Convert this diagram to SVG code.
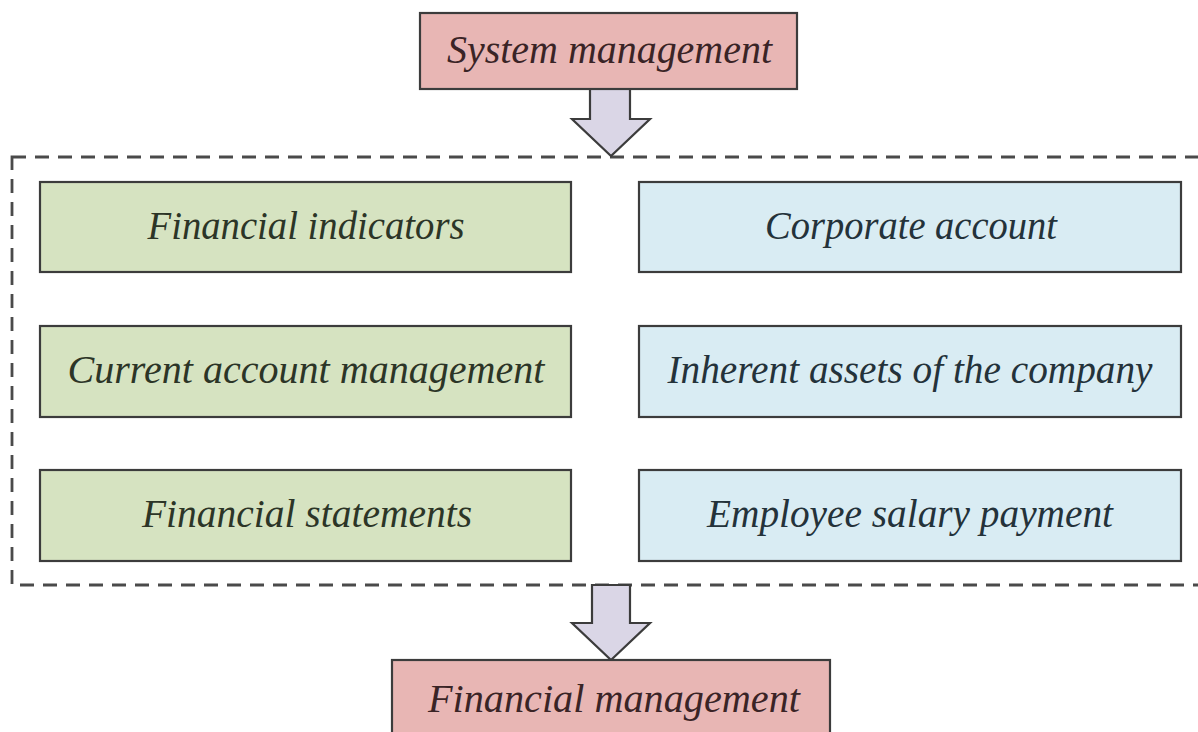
<svg xmlns="http://www.w3.org/2000/svg" width="1198" height="732" viewBox="0 0 1198 732">
<style>
.box{stroke:#3c3c3c;stroke-width:2.2}
.pink{fill:#e8b6b4}
.green{fill:#d6e3c1}
.blue{fill:#d9ecf3}
.arrow{fill:#dad6e6;stroke:#3c3c3c;stroke-width:2.2;stroke-linejoin:miter}
.dash{fill:none;stroke:#4a4a4a;stroke-width:2.8;stroke-dasharray:14 9}
text{font-family:"Liberation Serif","DejaVu Serif",serif;font-style:italic;font-size:39px;text-anchor:middle}
.tp{fill:#3a2426}
.tg{fill:#2c3527}
.tb{fill:#24323a}
</style>
<rect width="1198" height="732" fill="#ffffff"/>
<g id="group-frame">
<rect class="dash" x="12" y="157" width="1200" height="428"/>
</g>
<g id="connectors">
<path class="arrow" d="M590,89 L630,89 L630,119 L650,119 L611,156 L572,119 L590,119 Z"/>
<path class="arrow" d="M592,585 L630,585 L630,623 L650,623 L611,660 L572,623 L592,623 Z"/>
</g>
<g id="system-management">
<rect class="box pink" x="420" y="13" width="377" height="76"/>
<text class="tp" x="609.5" y="63" textLength="325" lengthAdjust="spacingAndGlyphs">System management</text>
</g>
<g id="financial-indicators">
<rect class="box green" x="40" y="182" width="531" height="90"/>
<text class="tg" x="306" y="239" textLength="317" lengthAdjust="spacingAndGlyphs">Financial indicators</text>
</g>
<g id="corporate-account">
<rect class="box blue" x="639" y="182" width="542" height="90"/>
<text class="tb" x="911" y="239" textLength="292" lengthAdjust="spacingAndGlyphs">Corporate account</text>
</g>
<g id="current-account-management">
<rect class="box green" x="40" y="326" width="531" height="91"/>
<text class="tg" x="306" y="383" textLength="477" lengthAdjust="spacingAndGlyphs">Current account management</text>
</g>
<g id="inherent-assets">
<rect class="box blue" x="639" y="326" width="542" height="91"/>
<text class="tb" x="910" y="383" textLength="485" lengthAdjust="spacingAndGlyphs">Inherent assets of the company</text>
</g>
<g id="financial-statements">
<rect class="box green" x="40" y="470" width="531" height="91"/>
<text class="tg" x="307" y="527" textLength="330" lengthAdjust="spacingAndGlyphs">Financial statements</text>
</g>
<g id="employee-salary-payment">
<rect class="box blue" x="639" y="470" width="542" height="91"/>
<text class="tb" x="910" y="527" textLength="406" lengthAdjust="spacingAndGlyphs">Employee salary payment</text>
</g>
<g id="financial-management">
<rect class="box pink" x="392" y="660" width="438" height="90"/>
<text class="tp" x="614" y="712" textLength="372" lengthAdjust="spacingAndGlyphs">Financial management</text>
</g>
</svg>
